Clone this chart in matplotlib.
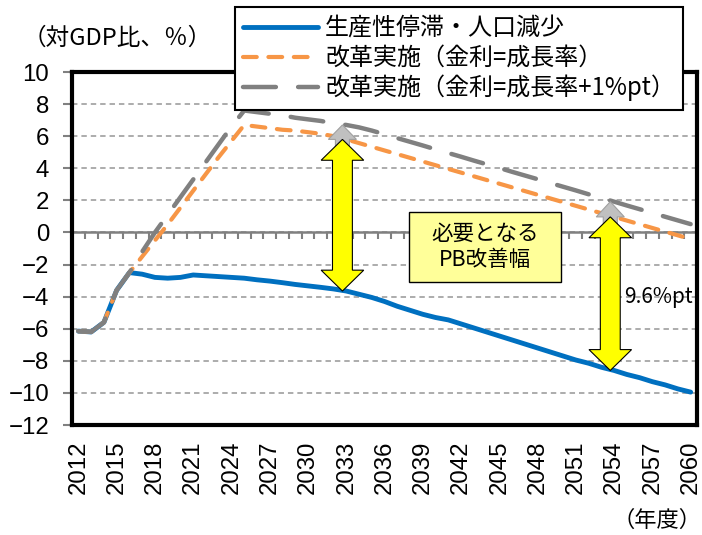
import matplotlib
matplotlib.use('Agg')
import matplotlib.pyplot as plt
from matplotlib.patches import Polygon, Rectangle
import numpy as np

plt.rcParams['font.family'] = ['Noto Sans CJK JP', 'DejaVu Sans']

years = list(range(2012, 2061))

stagnation = [-6.15, -6.2, -5.6, -3.6, -2.5, -2.6, -2.8, -2.85, -2.8, -2.65,
              -2.7, -2.75, -2.8, -2.85, -2.95, -3.03, -3.13, -3.24, -3.33, -3.42,
              -3.52, -3.65, -3.85, -4.05, -4.3, -4.6, -4.85, -5.1, -5.3, -5.45,
              -5.7, -5.95, -6.2, -6.45, -6.7, -6.95, -7.2, -7.45, -7.7, -7.95,
              -8.15, -8.4, -8.6, -8.85, -9.05, -9.3, -9.5, -9.75, -9.95]

reform = [-6.15, -6.2, -5.6, -3.6, -2.5, -1.5, -0.5, 0.5, 1.55, 2.6,
          3.65, 4.7, 5.7, 6.7, 6.6, 6.5, 6.4, 6.35, 6.25, 6.15,
          6.0, 5.8, 5.57, 5.34, 5.11, 4.88, 4.65, 4.42, 4.19, 3.96,
          3.73, 3.5, 3.27, 3.04, 2.81, 2.58, 2.35, 2.12, 1.89, 1.66,
          1.43, 1.2, 0.97, 0.74, 0.51, 0.28, 0.05, -0.18, -0.41]

reform_1pt = [-6.15, -6.2, -5.6, -3.6, -2.5, -1.2, 0.0, 1.1, 2.2, 3.3,
              4.4, 5.5, 6.6, 7.6, 7.5, 7.4, 7.3, 7.15, 7.05, 6.95,
              6.8, 6.7, 6.55, 6.35, 6.12, 5.88, 5.65, 5.42, 5.18, 4.95,
              4.72, 4.48, 4.25, 4.02, 3.78, 3.55, 3.32, 3.08, 2.85, 2.62,
              2.38, 2.15, 1.92, 1.68, 1.45, 1.22, 0.98, 0.75, 0.52]

labels = ['生産性停滞・人口減少', '改革実施（金利=成長率）', '改革実施（金利=成長率+1%pt）']
arrow_years = [2033, 2054]

fig = plt.figure(figsize=(7.02, 5.35), dpi=100)
ax = fig.add_axes([0.1026, 0.2056, 0.8903, 0.6598])

x = np.arange(len(years))

ax.grid(axis='y', color='#A6A6A6', lw=1.3, linestyle=(0, (3, 2.2)), zorder=1)
ax.axhline(0, color='#808080', lw=1.8, zorder=2)
ax.vlines(x[:-1] + 0.5, -0.4, 0, color='#808080', lw=1.5, zorder=2)

l1, = ax.plot(x, stagnation, color='#0070C0', lw=3.5, solid_capstyle='round', label=labels[0], zorder=3)
l2, = ax.plot(x, reform, color='#F79646', lw=3, linestyle=(0, (3.3, 2.8)),
              dash_capstyle='round', label=labels[1], zorder=4)
l3, = ax.plot(x, reform_1pt, color='#808080', lw=3.2, linestyle=(0, (7.4, 5)),
              dash_capstyle='round', label=labels[2], zorder=5)

# yellow arrows (blue -> orange) with a grey head up to the +1%pt line
for yr in arrow_years:
    i = years.index(yr)
    cx = x[i] - 0.3
    lo, mid, hi = stagnation[i], reform[i], reform_1pt[i]
    hw, sw, hl = 1.67, 0.78, 1.3
    gw = 1.1
    grey = Polygon([(cx - 0.55, mid - 1.2), (cx - 0.55, mid), (cx - gw, mid), (cx, hi),
                    (cx + gw, mid), (cx + 0.55, mid), (cx + 0.55, mid - 1.2)],
                   closed=True, facecolor='#C0C0C0', edgecolor='#A0A0A0', lw=0.8, zorder=6)
    ax.add_patch(grey)
    yel = Polygon([(cx, lo), (cx - hw, lo + hl), (cx - sw, lo + hl), (cx - sw, mid - hl),
                   (cx - hw, mid - hl), (cx, mid), (cx + hw, mid - hl), (cx + sw, mid - hl),
                   (cx + sw, lo + hl), (cx + hw, lo + hl)],
                  closed=True, facecolor='#FFFF00', edgecolor='black', lw=0.8, zorder=7)
    ax.add_patch(yel)

ax.add_patch(Rectangle((0.539, 0.405), 0.244, 0.198, transform=ax.transAxes,
                       facecolor='#FFFF99', edgecolor='black', lw=1, zorder=8))
ax.text(0.661, 0.504, '必要となる\nPB改善幅', transform=ax.transAxes, ha='center', va='center',
        fontsize=15.5, linespacing=1.25, zorder=9)
ax.text(0.884, 0.363, '9.6%pt', transform=ax.transAxes, ha='left', va='center', fontsize=15, zorder=9)

ax.set_xlim(-0.5, len(years) - 0.5)
ax.set_ylim(-12, 10)
ax.set_yticks(np.arange(-12, 11, 2))
ax.set_xticks(x[::3])
ax.set_xticklabels([str(y) for y in years[::3]], rotation=90)
ax.tick_params(axis='x', length=0, pad=11)
ax.tick_params(axis='y', length=6.5, width=1.5, color='#808080', pad=10)
for lab in ax.get_xticklabels() + ax.get_yticklabels():
    lab.set_fontfamily(['Liberation Sans', 'DejaVu Sans'])
    lab.set_fontsize(17.3)

for s in ax.spines.values():
    s.set_linewidth(3)
    s.set_color('black')
    s.set_zorder(10)

leg = ax.legend(handles=[l1, l2, l3], loc='upper left', bbox_to_anchor=(235 / 702, 1 - 7 / 535),
                bbox_transform=fig.transFigure, fontsize=17.3, fancybox=False, edgecolor='black',
                framealpha=1, borderaxespad=0, handlelength=3.1, handletextpad=0.3,
                labelspacing=0.15, borderpad=0.35)
leg.get_frame().set_linewidth(1.5)
leg.set_zorder(20)

fig.text(23 / 702, 1 - 38 / 535, '（対GDP比、％）', fontsize=17, ha='left', va='center')
fig.text(1.0, 1 - 520 / 535, '（年度）', fontsize=16, ha='right', va='center')

fig.savefig('out.png', dpi=100)
